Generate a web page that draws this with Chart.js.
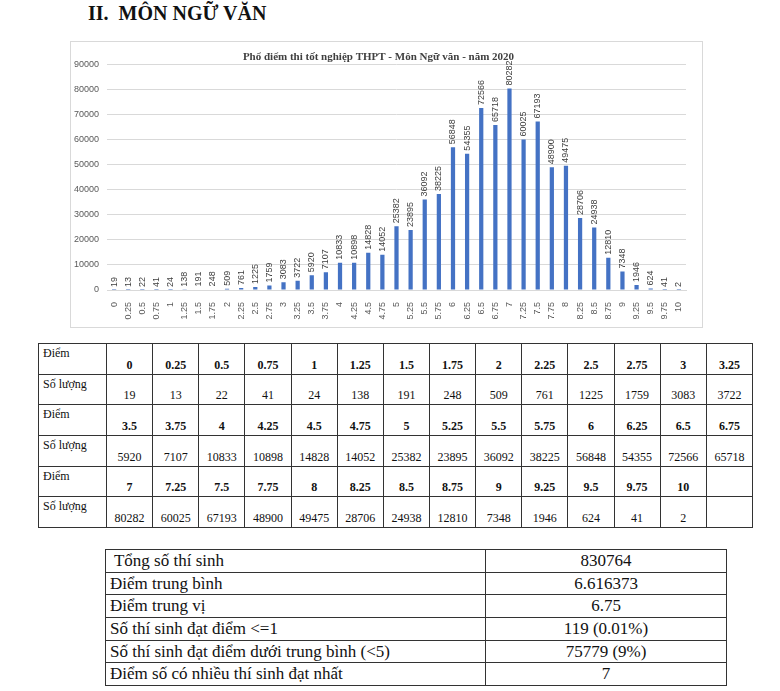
<!DOCTYPE html>
<html>
<head>
<meta charset="utf-8">
<script src="https://cdn.jsdelivr.net/npm/chart.js@4.4.1/dist/chart.umd.min.js"></script>
<style>
  body { margin: 0; background: #fff; width: 780px; height: 691px; position: relative; overflow: hidden; font-family: 'Liberation Serif', 'Times New Roman', 'DejaVu Serif', serif; color: #111; }
  #heading { position: absolute; left: 88px; top: 2px; font-size: 20px; font-weight: bold; white-space: pre; }
  #chartBox { position: absolute; left: 70px; top: 41px; width: 633px; height: 287px; border: 1px solid #d9d9d9; box-sizing: border-box; }
  table { border-collapse: collapse; position: absolute; table-layout: fixed; font-family: 'Liberation Serif', 'Times New Roman', 'DejaVu Serif', serif; }
  td { border: 1px solid #333; padding: 0; }
  #scoreTable { left: 38px; top: 343px; width: 715px; font-size: 12px; }
  #scoreTable td { height: 27.7px; text-align: center; vertical-align: bottom; padding-bottom: 1px; }
  #scoreTable td.head { text-align: left; vertical-align: top; padding: 2px 0 0 4px; }
  #scoreTable tr.pts td { font-weight: bold; }
  #scoreTable tr.pts td.head { font-weight: normal; }
  #statTable { left: 105px; top: 549px; width: 622px; font-size: 17px; }
  #statTable td { height: 21.7px; line-height: 20px; }
  #statTable td.l { text-align: left; padding-left: 4px; white-space: pre; }
  #statTable td.r { text-align: center; }
</style>
</head>
<body>
<div id="heading">II.  MÔN NGỮ VĂN</div>
<div id="chartBox"><canvas id="myChart"></canvas></div>
<table id="scoreTable"></table>
<table id="statTable"></table>
<script>
const scores = ['0', '0.25', '0.5', '0.75', '1', '1.25', '1.5', '1.75', '2', '2.25', '2.5', '2.75', '3', '3.25',
  '3.5', '3.75', '4', '4.25', '4.5', '4.75', '5', '5.25', '5.5', '5.75', '6', '6.25', '6.5', '6.75',
  '7', '7.25', '7.5', '7.75', '8', '8.25', '8.5', '8.75', '9', '9.25', '9.5', '9.75', '10'];
const counts = [19, 13, 22, 41, 24, 138, 191, 248, 509, 761, 1225, 1759, 3083, 3722,
  5920, 7107, 10833, 10898, 14828, 14052, 25382, 23895, 36092, 38225, 56848, 54355, 72566, 65718,
  80282, 60025, 67193, 48900, 49475, 28706, 24938, 12810, 7348, 1946, 624, 41, 2];
const statLabels = [' Tổng số thí sinh', 'Điểm trung bình', 'Điểm trung vị', 'Số thí sinh đạt điểm <=1',
  'Số thí sinh đạt điểm dưới trung bình (<5)', 'Điểm số có nhiều thí sinh đạt nhất'];
const statValues = ['830764', '6.616373', '6.75', '119 (0.01%)', '75779 (9%)', '7'];

const PER_ROW = 14;
const SERIF = "'Liberation Serif', 'Times New Roman', 'DejaVu Serif', serif";
const SANS = "'Liberation Sans', Arial, sans-serif";

function buildScoreTable() {
    const table = document.getElementById('scoreTable');
    let html = '<colgroup><col style="width:68px">';
    for (let i = 0; i < PER_ROW; i++) html += '<col>';
    html += '</colgroup>';
    for (let start = 0; start < scores.length; start += PER_ROW) {
        let ptsRow = '<tr class="pts"><td class="head">Điểm</td>';
        let cntRow = '<tr><td class="head">Số lượng</td>';
        for (let i = start; i < start + PER_ROW; i++) {
            ptsRow += '<td>' + (i < scores.length ? scores[i] : '') + '</td>';
            cntRow += '<td>' + (i < counts.length ? counts[i] : '') + '</td>';
        }
        html += ptsRow + '</tr>' + cntRow + '</tr>';
    }
    table.innerHTML = html;
}

function buildStatTable() {
    const table = document.getElementById('statTable');
    let html = '<colgroup><col style="width:380px"><col></colgroup>';
    statLabels.forEach((label, i) => {
        html += '<tr><td class="l">' + label.replace(/</g, '&lt;') + '</td><td class="r">' + statValues[i] + '</td></tr>';
    });
    table.innerHTML = html;
}

// vertical value labels above each bar
const barLabels = {
    id: 'barLabels',
    afterDatasetsDraw(chart) {
        const ctx = chart.ctx;
        const meta = chart.getDatasetMeta(0);
        const values = chart.data.datasets[0].data;
        ctx.save();
        ctx.font = '9px ' + SANS;
        ctx.fillStyle = '#404040';
        ctx.textAlign = 'left';
        ctx.textBaseline = 'middle';
        meta.data.forEach((bar, i) => {
            ctx.save();
            ctx.translate(bar.x, bar.y - 3);
            ctx.rotate(-Math.PI / 2);
            ctx.fillText(String(values[i]), 0, 0);
            ctx.restore();
        });
        ctx.restore();
    }
};

function setupChart() {
    const ctx = document.getElementById('myChart').getContext('2d');
    new Chart(ctx, {
        type: 'bar',
        data: {
            labels: scores,
            datasets: [{
                data: counts,
                backgroundColor: '#4472c4',
                categoryPercentage: 1,
                barPercentage: 0.3
            }]
        },
        options: {
            responsive: true,
            maintainAspectRatio: false,
            animation: false,
            layout: { padding: { left: 0, right: 16, top: 0, bottom: 0 } },
            plugins: {
                legend: { display: false },
                tooltip: { enabled: false },
                title: {
                    display: true,
                    text: 'Phổ điểm thi tốt nghiệp THPT - Môn Ngữ văn - năm 2020',
                    color: '#404040',
                    font: { family: SERIF, size: 11, weight: 'bold' },
                    padding: { top: 9, bottom: 0 }
                }
            },
            scales: {
                x: {
                    grid: { display: false },
                    border: { color: '#d9d9d9' },
                    ticks: {
                        color: '#595959',
                        font: { family: SANS, size: 9 },
                        minRotation: 90,
                        maxRotation: 90,
                        autoSkip: false,
                        padding: 4
                    },
                    afterFit(scale) { scale.height = 37; }
                },
                y: {
                    min: 0,
                    max: 90000,
                    grid: { color: '#d9d9d9', drawTicks: false },
                    border: { display: false },
                    ticks: {
                        stepSize: 10000,
                        color: '#595959',
                        font: { family: SANS, size: 9 },
                        padding: 8,
                        callback: value => String(value)
                    },
                    afterFit(scale) { scale.width = 36; }
                }
            }
        },
        plugins: [barLabels]
    });
}

buildScoreTable();
buildStatTable();
setupChart();
</script>
</body>
</html>
